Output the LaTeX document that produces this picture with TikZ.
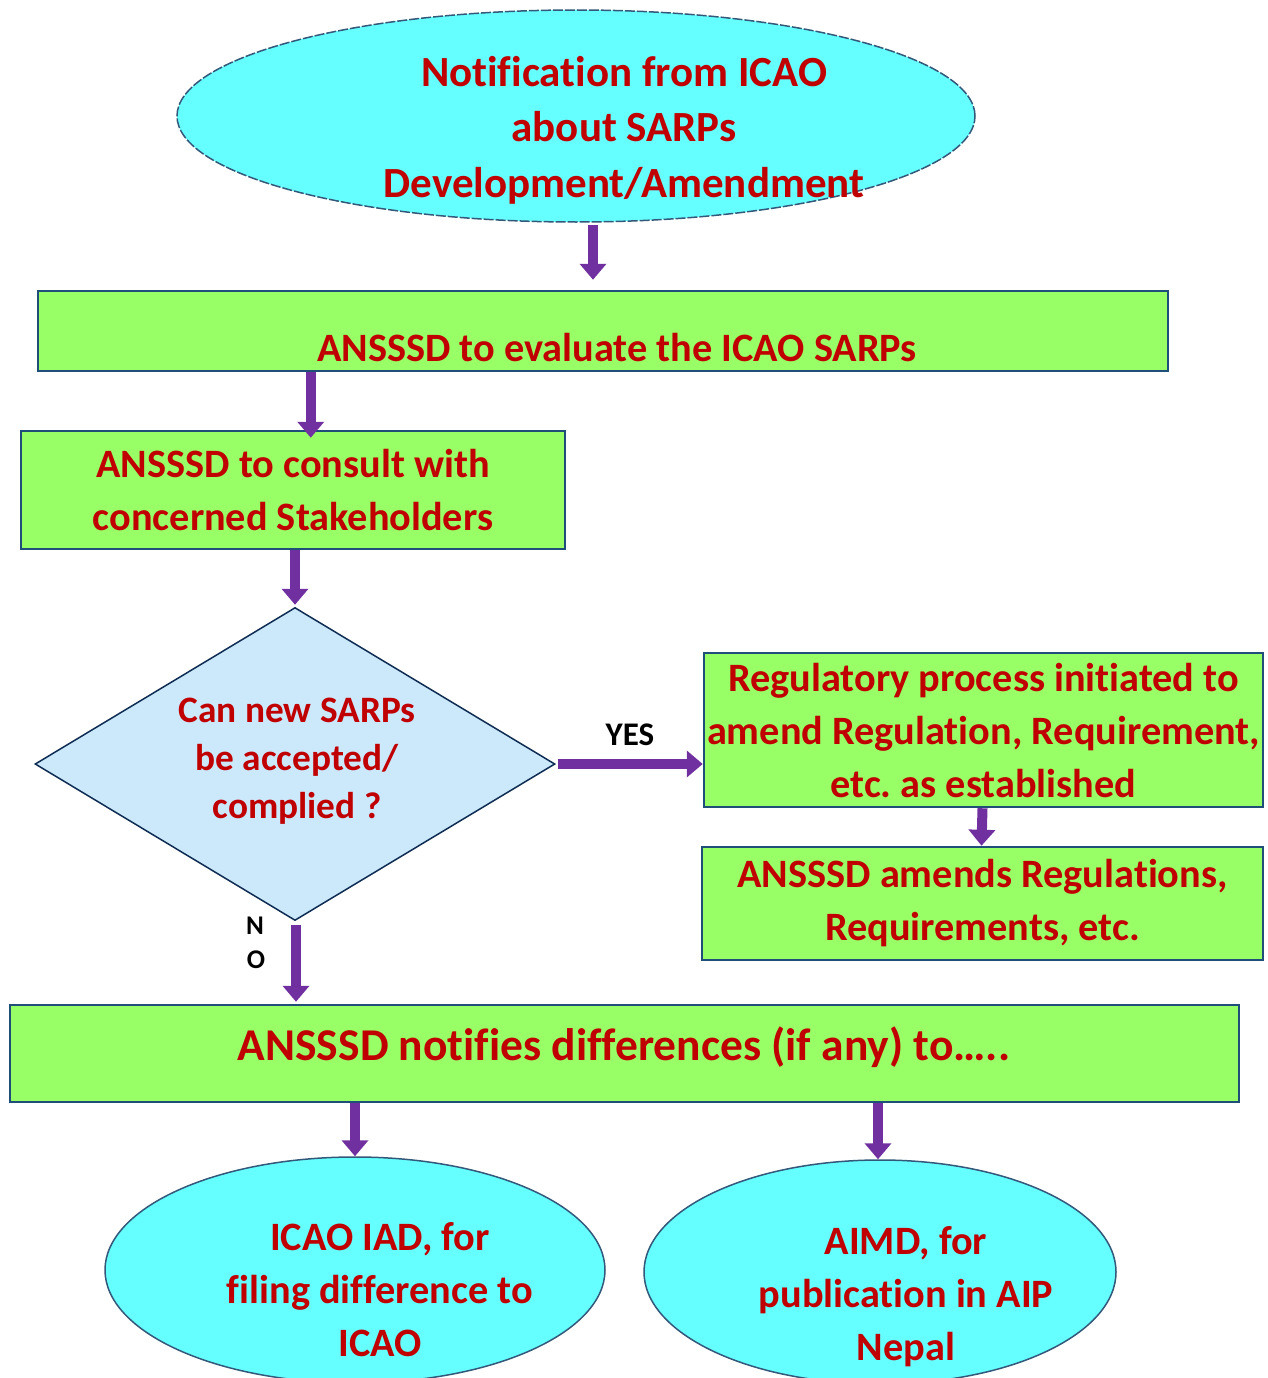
\documentclass[tikz,border=0pt]{standalone}
\usepackage{fontspec}
\setmainfont{Carlito}[Ligatures=NoCommon]
\usetikzlibrary{arrows.meta,shapes.geometric,calc}
\definecolor{tred}{HTML}{C00000}
\definecolor{purp}{HTML}{7030A0}
\definecolor{lgreen}{HTML}{99FF66}
\definecolor{lcyan}{HTML}{66FFFF}
\definecolor{lblue}{HTML}{CCE8FB}
\definecolor{boxblue}{HTML}{1F4E79}
\definecolor{navy}{HTML}{0F2D52}
\frenchspacing
\begin{document}
\begin{tikzpicture}[x=1pt,y=-1pt,
  greenbox/.style={draw=boxblue, line width=2.5pt, fill=lgreen, inner sep=0pt, align=center, text=tred},
  cyanell/.style={ellipse, draw=boxblue!80!gray, line width=1.5pt, fill=lcyan, inner sep=0pt},
  redtxt/.style={text=tred, align=center, inner sep=0pt},
  f40/.style={font=\bfseries\fontsize{40.3}{53}\selectfont},
  arr/.style={draw=purp, line width=10pt, -{Triangle[width=26pt,length=16pt]}},
  lab/.style={text=black, inner sep=0pt, font=\bfseries\fontsize{33}{38}\selectfont}]
\useasboundingbox (0,0) rectangle (1268,1378);

% top ellipse
\node[cyanell, dash pattern=on 10pt off 2pt, minimum width=798pt, minimum height=212pt] (e1) at (576,116) {};
\node[redtxt, font=\bfseries\fontsize{43}{55.5}\selectfont] (e1t) at (624,130) {Notification from ICAO\\about SARPs\\Development/Amendment};

% boxes
\node[greenbox, minimum width=1130pt, minimum height=80pt] (b1) at (603,331) {};
\node[redtxt, f40] (b1t) at (617,348) {ANSSSD to evaluate the ICAO SARPs};

\node[greenbox, f40, minimum width=544pt, minimum height=118pt] (b2) at (293,490) {ANSSSD to consult with\\concerned Stakeholders};

\node[diamond, draw=navy, line width=1.5pt, fill=lblue, inner sep=0pt, minimum width=520pt, minimum height=313pt] (dia) at (295,764) {};
\node[redtxt, font=\bfseries\fontsize{37.3}{48}\selectfont] (diat) at (297,761) {Can new SARPs\\be accepted/\\complied ?};

\node[greenbox, f40, minimum width=559pt, minimum height=154pt] (b3) at (983.5,730) {Regulatory process initiated to\\amend Regulation, Requirement,\\etc. as established};

\node[greenbox, f40, minimum width=561pt, minimum height=113pt] (b4) at (982.5,903.5) {ANSSSD amends Regulations,\\Requirements, etc.};

\node[greenbox, minimum width=1229pt, minimum height=97pt] (b5) at (624.5,1053.5) {};
\node[redtxt, font=\bfseries\fontsize{45.5}{53}\selectfont] (b5t) at (624,1047) {ANSSSD notifies differences (if any) to\dots..};

\node[cyanell, minimum width=500pt, minimum height=226pt] (e2) at (355,1270) {};
\node[redtxt, f40] (e2t) at (380,1290) {ICAO IAD, for\\filing difference to\\ICAO};

\node[cyanell, minimum width=472pt, minimum height=224pt] (e3) at (880,1272) {};
\node[redtxt, f40] (e3t) at (906,1297) {AIMD, for\\publication in AIP\\Nepal};

% arrows
\draw[arr, shorten >=10pt] ([xshift=17pt,yshift=-2pt]e1.south) -- ([xshift=17pt]e1.south |- b1.north);
\draw[arr, shorten >=-8pt] ([xshift=274pt]b1.south west) -- ([xshift=291pt]b2.north west);
\draw[arr] ([xshift=2pt]b2.south) -- ([yshift=2pt]dia.north);
\draw[arr, shorten <=2pt] (dia.east) -- (dia.east -| b3.west);
\node[lab] (yes) at (630,735) {YES};
\draw[arr] ([xshift=-1pt]b3.south) -- ([xshift=-1pt]b4.north);
\draw[arr, shorten >=2pt] ([xshift=1pt,yshift=-4pt]dia.south) -- ([xshift=1pt]dia.south |- b5.north);
\node[lab, font=\bfseries\fontsize{27}{30}\selectfont] (n) at (255,926) {N};
\node[lab, font=\bfseries\fontsize{27}{30}\selectfont] (o) at (256,960) {O};
\draw[arr] (b5.south -| e2.north) -- (e2.north);
\draw[arr] ([xshift=-2pt]b5.south -| e3.north) -- ([xshift=-2pt]e3.north);
\end{tikzpicture}
\end{document}
